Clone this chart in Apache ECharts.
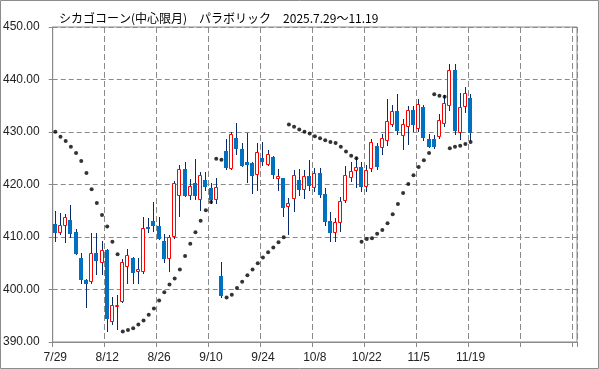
<!DOCTYPE html>
<html>
<head>
<meta charset="utf-8">
<script src="https://cdn.jsdelivr.net/npm/echarts@6/dist/echarts.min.js"></script>
<style>
html,body{margin:0;padding:0;background:#fff;}
#chart{width:599px;height:369px;}
</style>
</head>
<body>
<div id="chart"></div>
<script>
const titleText = 'シカゴコーン(中心限月)　パラボリック　2025.7.29～11.19';

const categories = ['7/29','7/30','7/31','8/1','8/4','8/5','8/6','8/7','8/8','8/11','8/12','8/13','8/14','8/15','8/18','8/19','8/20','8/21','8/22','8/25','8/26','8/27','8/28','8/29','9/2','9/3','9/4','9/5','9/8','9/9','9/10','9/11','9/12','9/15','9/16','9/17','9/18','9/19','9/22','9/23','9/24','9/25','9/26','9/29','9/30','10/1','10/2','10/3','10/6','10/7','10/8','10/9','10/10','10/13','10/14','10/15','10/16','10/17','10/20','10/21','10/22','10/23','10/24','10/27','10/28','10/29','10/30','10/31','11/3','11/4','11/5','11/6','11/7','11/10','11/11','11/12','11/13','11/14','11/17','11/18','11/19'];
const emptySlots = 20;

const opens = [412.5,410.8,412.1,413.3,411.0,406.0,401.9,401.5,406.9,405.0,
407.6,393.8,396.9,397.6,404.3,406.0,403.4,403.4,411.9,413.1,
412.1,409.3,405.9,409.95,417.9,423.0,417.9,420.2,417.0,420.9,
419.3,417.0,402.5,426.3,423.0,428.9,426.7,424.2,424.1,421.9,
425.1,423.8,425.3,421.1,421.2,415.7,417.2,420.9,418.9,421.7,
419.3,422.1,418.2,413.1,410.7,412.7,416.8,421.2,422.5,423.3,
419.6,423.0,427.4,427.0,428.25,431.4,434.0,429.2,431.0,434.2,
430.6,434.8,428.6,428.6,429.1,431.6,434.9,441.8,429.85,434.8,
436.4];
const closes = [410.8,412.2,413.8,410.6,406.8,401.8,401.0,406.9,405.5,407.6,
394.4,397.1,397.1,405.2,406.6,403.2,404.0,411.7,411.5,412.1,
409.6,405.9,409.95,420.3,423.0,417.9,419.8,417.9,421.9,419.6,
417.0,419.6,398.7,423.1,429.7,426.7,423.6,423.8,421.7,426.1,
424.2,425.9,421.9,421.7,415.5,416.5,421.9,418.9,421.7,419.8,
422.1,418.0,412.9,410.7,412.9,416.8,421.9,422.6,423.3,419.6,
422.8,428.1,423.3,428.9,432.1,434.0,430.2,431.6,434.2,431.4,
435.4,428.9,427.2,427.2,432.2,435.5,441.8,430.2,434.8,437.5,
429.85];
const lows = [409.1,410.3,408.8,409.9,406.5,401.1,396.5,401.1,402.7,402.7,
391.9,393.2,392.2,397.4,401.1,401.1,401.1,403.0,410.8,411.0,
409.4,405.0,403.4,409.6,413.9,417.6,417.1,417.1,414.9,418.8,
416.3,416.3,398.3,422.8,422.8,425.7,423.3,420.2,418.2,418.7,
423.6,423.5,421.1,418.7,413.9,410.4,414.7,417.9,417.2,418.7,
418.6,417.5,412.1,409.1,409.1,411.0,416.5,420.5,419.3,418.5,
418.5,422.45,422.8,425.7,427.4,430.9,429.5,426.6,427.6,430.0,
430.0,428.25,427.0,426.8,428.7,431.0,434.0,429.5,428.4,433.6,
428.25];
const highs = [415.0,414.5,414.4,416.1,411.5,406.9,402.0,410.8,410.8,409.3,
407.7,398.5,398.9,405.9,407.8,406.2,406.0,413.8,413.6,416.6,
413.9,410.6,410.3,420.6,423.8,424.2,421.1,424.9,422.3,422.3,
420.3,421.2,405.3,428.6,430.0,431.7,427.9,429.9,424.3,427.9,
428.1,426.5,425.4,423.0,421.3,417.4,422.8,423.0,422.7,424.6,
423.2,423.2,419.3,414.85,413.6,417.7,423.6,424.2,425.3,424.3,
423.8,428.6,427.9,429.7,436.2,435.1,437.2,432.4,434.9,434.9,
436.2,435.2,429.7,429.5,433.4,437.0,442.95,442.95,437.4,438.6,
437.2];
const sar = [430.05,429.1,428.3,427.2,426.0,424.5,422.2,419.1,416.5,414.2,
412.0,409.1,406.7,392.0,392.3,392.6,393.35,394.1,395.2,396.4,
397.9,399.5,400.95,402.1,403.8,406.4,408.7,410.9,413.1,415.1,
416.65,424.9,424.7,398.5,399.0,400.3,401.5,402.7,403.8,405.0,
406.1,407.1,408.0,409.0,409.95,431.45,431.0,430.5,430.05,429.7,
429.2,428.8,428.45,428.1,427.9,427.2,426.3,425.5,425.0,409.1,
409.6,409.75,410.6,411.35,412.6,414.35,416.3,418.4,420.1,421.75,
423.35,424.6,426.0,437.2,436.9,436.7,426.9,427.2,427.4,427.7,
428.1];
const yTicks = [390, 400, 410, 420, 430, 440, 450];

const axisCats = categories.concat(new Array(emptySlots).fill(''));
const candleData = opens.map((o, i) => [i, o, closes[i], lows[i], highs[i]]);
const sarData = sar.map((v, i) => [i, v]);

const chart = echarts.init(document.getElementById('chart'), null, {renderer: 'canvas'});
const gridColor = '#8a8a8a';
const upColor = '#ff0000';
const downColor = '#0070c0';
const wickColor = '#0a2a6e';

chart.setOption({
  animation: false,
  backgroundColor: '#ffffff',
  title: {
    text: titleText,
    left: 54, top: 7,
    textStyle: {fontFamily: '"Noto Sans CJK JP"', fontSize: 12, fontWeight: 'normal', color: '#000'}
  },
  graphic: [{
    type: 'rect', silent: true,
    shape: {x: 0.5, y: 0.5, width: 598, height: 368},
    style: {fill: 'none', stroke: '#8c8c8c', lineWidth: 1}
  }],
  grid: {
    left: 51, top: 27, width: 526, height: 315,
    show: true, borderColor: gridColor, borderWidth: 1, backgroundColor: 'transparent'
  },
  xAxis: {
    type: 'category',
    data: axisCats,
    boundaryGap: true,
    axisLine: {lineStyle: {color: gridColor}},
    axisTick: {show: true, interval: 9, length: 5, lineStyle: {color: gridColor}},
    axisLabel: {interval: 9, margin: 10, fontFamily: '"Liberation Sans"', fontSize: 12, color: '#222'},
    splitLine: {show: true, interval: 9, lineStyle: {color: gridColor, type: [6, 3]}}
  },
  yAxis: {
    type: 'value',
    min: yTicks[0], max: yTicks[yTicks.length - 1], interval: 10,
    axisLine: {show: true, lineStyle: {color: gridColor}},
    axisTick: {show: true, length: 4, lineStyle: {color: gridColor}},
    axisLabel: {margin: 13, fontFamily: '"Liberation Sans"', fontSize: 12, color: '#222',
      formatter: v => v.toFixed(2)},
    splitLine: {show: true, lineStyle: {color: gridColor, type: [5, 3]}}
  },
  series: [
    {
      type: 'custom',
      data: candleData,
      encode: {x: 0, y: [1, 2, 3, 4]},
      clip: true,
      renderItem: function (params, api) {
        const i = api.value(0);
        const o = api.value(1), c = api.value(2), l = api.value(3), h = api.value(4);
        const pO = api.coord([i, o]);
        const pC = api.coord([i, c]);
        const pL = api.coord([i, l]);
        const pH = api.coord([i, h]);
        const X = Math.floor(pO[0]) + 0.5;
        const up = c >= o;
        const top = Math.round(Math.min(pO[1], pC[1]));
        const bot = Math.round(Math.max(pO[1], pC[1]));
        const children = [{
          type: 'line',
          shape: {x1: X, y1: Math.round(pH[1]), x2: X, y2: Math.round(pL[1])},
          style: {stroke: wickColor, lineWidth: 1}
        }];
        if (up) {
          children.push({
            type: 'rect',
            shape: {x: X - 2, y: top + 0.5, width: 3, height: Math.max(bot - top - 1, 1)},
            style: {fill: '#ffffff', stroke: upColor, lineWidth: 1}
          });
        } else {
          children.push({
            type: 'rect',
            shape: {x: X - 2.5, y: top, width: 4, height: Math.max(bot - top, 1)},
            style: {fill: downColor, stroke: null}
          });
        }
        return {type: 'group', children: children};
      },
      z: 3
    },
    {
      type: 'scatter',
      data: sarData,
      symbol: 'circle',
      symbolSize: 4,
      itemStyle: {color: '#000000'},
      z: 4
    }
  ]
});
</script>
</body>
</html>
